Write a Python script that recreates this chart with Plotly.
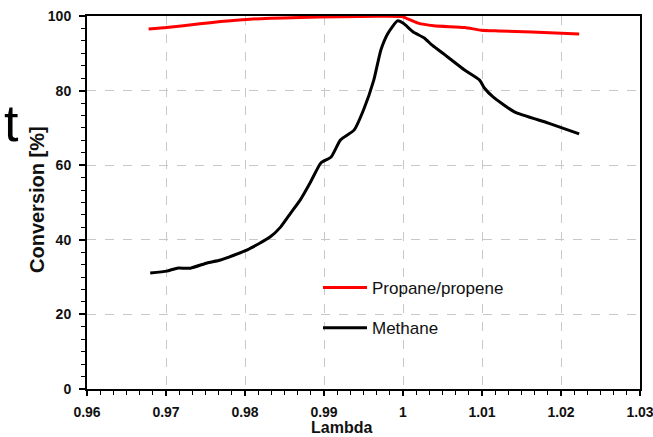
import plotly.graph_objects as go

# ---- data ----
lambda_propane = [0.9678, 0.9701, 0.9743, 0.9769, 0.9810, 0.9870, 0.9920, 0.9970,
                  1.0000, 1.0006, 1.0019, 1.0039, 1.0078, 1.0099, 1.0121, 1.0163, 1.0223]
propane = [96.5, 96.9, 97.9, 98.5, 99.2, 99.6, 99.8, 99.9,
           99.8, 99.2, 98.1, 97.4, 96.9, 96.2, 96.0, 95.7, 95.2]

lambda_methane = [0.9680, 0.9701, 0.9714, 0.9731, 0.9752, 0.9769, 0.9803, 0.9832,
                  0.9845, 0.9858, 0.9870, 0.9883, 0.9896, 0.9909, 0.9921, 0.9938,
                  0.9950, 0.9963, 0.9972, 0.9981, 0.9993, 1.0000, 1.0013, 1.0027,
                  1.0036, 1.0048, 1.0078, 1.0097, 1.0103, 1.0114, 1.0141, 1.0184, 1.0223]
methane = [31.1, 31.6, 32.4, 32.4, 33.8, 34.6, 37.3, 40.8,
           43.4, 47.2, 50.7, 55.5, 60.6, 62.2, 66.8, 69.4,
           74.8, 82.8, 90.9, 95.4, 98.7, 98.1, 95.7, 94.1,
           92.3, 90.4, 85.5, 82.8, 80.7, 78.3, 74.3, 71.3, 68.4]

x_ticks = [0.96, 0.97, 0.98, 0.99, 1.00, 1.01, 1.02, 1.03]
x_tick_labels = ["0.96", "0.97", "0.98", "0.99", "1", "1.01", "1.02", "1.03"]
y_ticks = [0, 20, 40, 60, 80, 100]

W, H = 653, 437
L, R, T, B = 87, 13, 16, 48
pw, ph = W - L - R, H - T - B

def px_x(p):
    return (p - L) / pw

def px_y(p):
    return (H - B - p) / ph

tick_font = dict(family="Liberation Sans, Arial", color="#111111", weight="bold")

fig = go.Figure()
fig.add_trace(go.Scatter(x=lambda_methane, y=methane, mode="lines", name="Methane",
                         line=dict(color="#000000", width=3, shape="spline", smoothing=0.5),
                         legendgroup="m", legendrank=2))
fig.add_trace(go.Scatter(x=lambda_propane, y=propane, mode="lines", name="Propane/propene",
                         line=dict(color="#ff0000", width=3, shape="spline", smoothing=0.5),
                         legendgroup="p", legendrank=1))

fig.update_layout(
    width=W, height=H,
    margin=dict(l=L, r=R, t=T, b=B, pad=0, autoexpand=False),
    paper_bgcolor="white", plot_bgcolor="white",
    showlegend=True,
    legend=dict(x=px_x(318), y=px_y(270), xanchor="left", yanchor="top",
                bgcolor="rgba(0,0,0,0)", borderwidth=0,
                font=dict(family="Liberation Sans, Arial", size=17, color="#111111"),
                traceorder="grouped", tracegroupgap=15, itemwidth=44),
    xaxis=dict(range=[0.96, 1.03], tickvals=x_ticks, ticktext=x_tick_labels,
               automargin=False,
               showgrid=True, gridcolor="#c8c8c8", griddash="dash", gridwidth=1,
               showline=True, linecolor="black", linewidth=2, mirror=True,
               ticks="outside", ticklen=5, tickwidth=1.5, tickcolor="black",
               ticklabelstandoff=4, ticklabeloverflow="allow",
               tickfont=dict(size=14, **tick_font),
               minor=dict(dtick=0.01 / 6, tick0=0.96, ticks="outside", ticklen=4,
                          tickwidth=1.2, tickcolor="black", showgrid=False),
               zeroline=False),
    yaxis=dict(range=[0, 100], tickvals=y_ticks,
               automargin=False,
               showgrid=True, gridcolor="#c8c8c8", griddash="dash", gridwidth=1,
               showline=True, linecolor="black", linewidth=2, mirror=True,
               ticks="outside", ticklen=6, tickwidth=1.5, tickcolor="black",
               ticklabelstandoff=5, ticklabeloverflow="allow",
               tickfont=dict(size=14, **tick_font),
               minor=dict(dtick=20 / 6, tick0=0, ticks="outside", ticklen=4,
                          tickwidth=1.2, tickcolor="black", showgrid=False),
               zeroline=False),
    annotations=[
        dict(text="<b>Lambda</b>", x=px_x(341), y=px_y(427), xref="paper", yref="paper",
             xanchor="center", yanchor="middle", showarrow=False,
             font=dict(family="Liberation Sans, Arial", size=16, color="#111111")),
        dict(text="<b>Conversion [%]</b>", x=px_x(37), y=px_y(200), xref="paper", yref="paper",
             xanchor="center", yanchor="middle", showarrow=False, textangle=-90,
             font=dict(family="Liberation Sans, Arial", size=20, color="#111111")),
        dict(text="t", x=px_x(11), y=px_y(123), xref="paper", yref="paper",
             xanchor="center", yanchor="middle", showarrow=False,
             font=dict(family="Liberation Sans, Arial", size=52, color="#000000")),
    ],
)

fig.write_html("out.html", config={"displayModeBar": False},
               post_script="document.body.style.margin='0';document.body.style.overflow='hidden';")
